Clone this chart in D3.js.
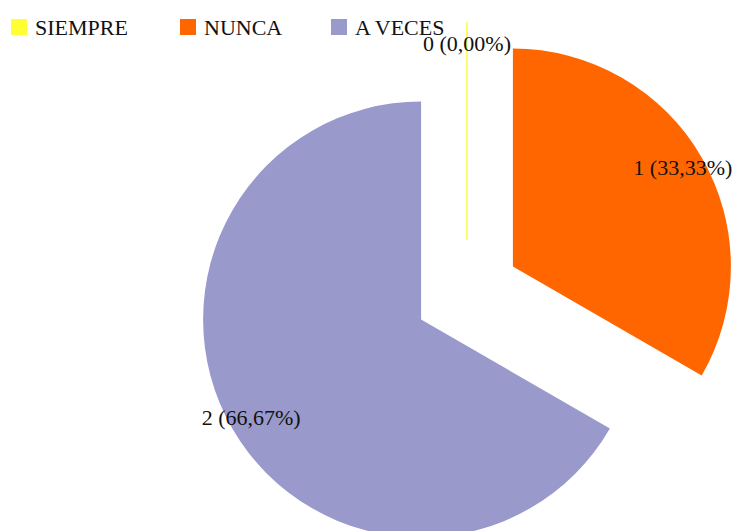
<!DOCTYPE html>
<meta charset="utf-8">
<style>
body{margin:0;background:#fff;}
text{font-family:"Liberation Serif","DejaVu Serif","Times New Roman",serif;font-size:22px;fill:#111;}
</style>
<body>
<script src="https://cdn.jsdelivr.net/npm/d3@7"></script>
<script>

var categories = ["SIEMPRE", "NUNCA", "A VECES"];
var values = [0, 1, 2];
var labels = ["0 (0,00%)", "1 (33,33%)", "2 (66,67%)"];
var colors = ["#ffff33", "#ff6600", "#9999cc"];

var width = 733, height = 531;
var cx = 467, cy = 293, r = 218, explode = 53;

var svg = d3.select("body").append("svg").attr("width", width).attr("height", height);

var pie = d3.pie().sort(null).value(d => d);
var arc = d3.arc().innerRadius(0).outerRadius(r);
var arcs = pie(values);

var g = svg.append("g").attr("transform", "translate(" + cx + "," + cy + ")");

function shift(d, dist){
	var a = (d.startAngle + d.endAngle) / 2;
	return [Math.sin(a) * dist, -Math.cos(a) * dist];
}

var slices = g.selectAll(".slice").data(arcs).enter().append("g")
	.attr("class", "slice")
	.attr("transform", d => "translate(" + shift(d, explode) + ")");

slices.append("path")
	.attr("d", arc)
	.attr("fill", (d, i) => colors[i])
	.attr("stroke", (d, i) => d.value == 0 ? colors[i] : "none")
	.attr("stroke-width", 1.5);

slices.append("text")
	.attr("x", d => shift(d, r * 0.9)[0])
	.attr("y", d => shift(d, r * 0.9)[1] + 7)
	.attr("text-anchor", "middle")
	.text((d, i) => labels[i]);

// legend
var legX = d3.scaleOrdinal().domain(categories).range([11, 180, 331]);
var leg = svg.selectAll(".leg").data(categories).enter().append("g")
	.attr("class", "leg")
	.attr("transform", d => "translate(" + legX(d) + ",19)");
leg.append("rect").attr("width", 16).attr("height", 16)
	.attr("fill", (d, i) => colors[i]);
leg.append("text").attr("x", 24).attr("y", 16).text(d => d);

</script>
</body>
